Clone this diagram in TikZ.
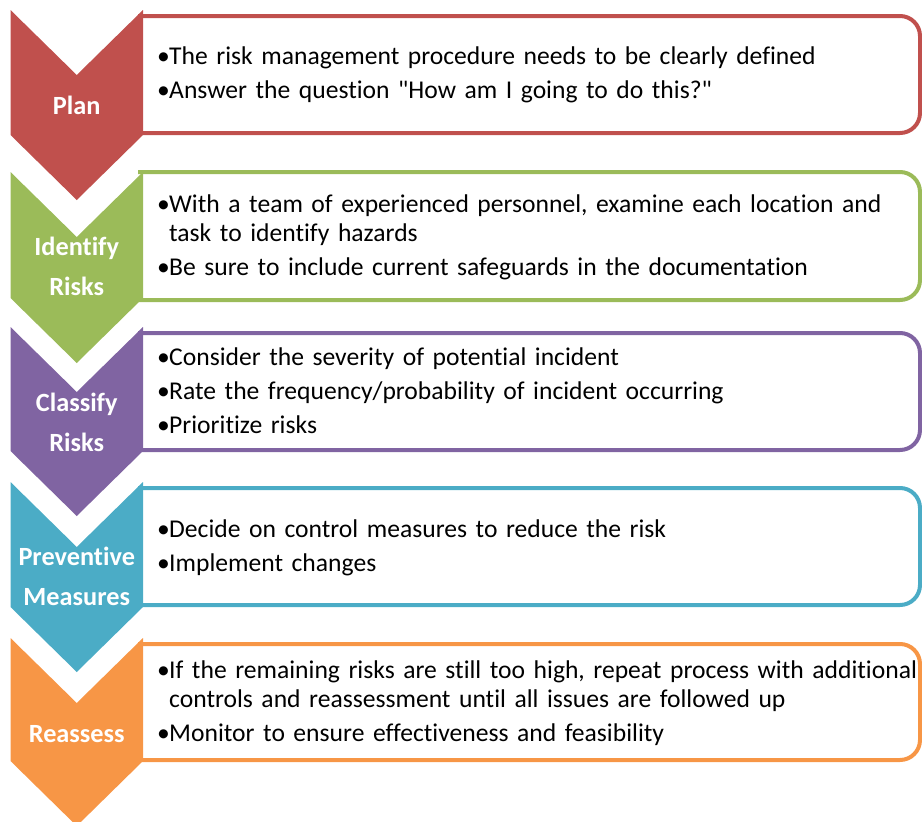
\documentclass[tikz,border=0pt]{standalone}
\usepackage{fontspec}
\setmainfont{Carlito}[Ligatures={NoCommon}]
\definecolor{planred}{HTML}{C0504D}
\definecolor{identgreen}{HTML}{9BBB59}
\definecolor{classpurple}{HTML}{8064A2}
\definecolor{prevteal}{HTML}{4BACC6}
\definecolor{reorange}{HTML}{F79646}
\newcommand{\itm}[1]{\hangindent=12pt\hangafter=1\makebox[12pt][l]{\textbullet}#1\par}
\begin{document}
\begin{tikzpicture}[x=1pt, y=-1pt,
	panel/.style={line width=4pt, rounded corners=20pt},
	lbl/.style={anchor=base, text=white, inner sep=0pt, text width=136pt,
		align=center, font=\bfseries\fontsize{26.3}{40}\selectfont},
	txt/.style={anchor=base west, inner sep=0pt, text width=800pt, align=left,
		font=\fontsize{25.6}{29}\selectfont,
		execute at begin node={\setlength{\parskip}{5pt}\hyphenpenalty=10000}}]
	\clip (0,0) rectangle (922,822);

	% boxes on the right
	\draw[panel, planred] (138,16) -- (920,16) -- (920,133) -- (138,133);
	\draw[panel, identgreen] (138,172) -- (920,172) -- (920,300) -- (138,300);
	\draw[panel, classpurple] (138,333) -- (920,333) -- (920,450) -- (138,450);
	\draw[panel, prevteal] (138,488) -- (920,488) -- (920,605) -- (138,605);
	\draw[panel, reorange] (138,644) -- (920,644) -- (920,760) -- (138,760);

	% chevrons
	\fill[planred] (10.5,10) -- (76.75,75) -- (143,10) -- (143,135)
		-- (76.75,200) -- (10.5,135) -- cycle;
	\fill[identgreen] (10.5,172) -- (76.75,237) -- (143,172) -- (143,298)
		-- (76.75,363) -- (10.5,298) -- cycle;
	\fill[classpurple] (10.5,327) -- (76.75,392) -- (143,327) -- (143,451)
		-- (76.75,516) -- (10.5,451) -- cycle;
	\fill[prevteal] (10.5,482) -- (76.75,547) -- (143,482) -- (143,607)
		-- (76.75,672) -- (10.5,607) -- cycle;
	\fill[reorange] (10.5,638) -- (76.75,703) -- (143,638) -- (143,761)
		-- (76.75,826) -- (10.5,761) -- cycle;

	\node[lbl] (plan) at (76.75,114) {Plan};
	\node[lbl] (ident) at (76.75,255) {Identify\\Risks};
	\node[lbl] (class) at (76.75,411) {Classify\\Risks};
	\node[lbl] (prev) at (76.75,565.5) {Preventive\\Measures};
	\node[lbl] (reass) at (76.75,742) {Reassess};

	\node[txt] (plantxt) at (157,64.5)
	{\itm{The risk management procedure needs to be clearly defined}
	\itm{Answer the question \textquotedbl How am I going to do this?\textquotedbl}};
	\node[txt] (identtxt) at (157,212.7)
	{\itm{With a team of experienced personnel, examine each location and\newline task to identify hazards}
	\itm{Be sure to include current safeguards in the documentation}};
	\node[txt] (classtxt) at (157,365)
	{\itm{Consider the severity of potential incident}
	\itm{Rate the frequency/probability of incident occurring}
	\itm{Prioritize risks}};
	\node[txt] (prevtxt) at (157,537)
	{\itm{Decide on control measures to reduce the risk}
	\itm{Implement changes}};
	\node[txt] (reasstxt) at (157,678)
	{\itm{If the remaining risks are still too high, repeat process with additional\newline controls and reassessment until all issues are followed up}
	\itm{Monitor to ensure effectiveness and feasibility}};
\end{tikzpicture}
\end{document}
